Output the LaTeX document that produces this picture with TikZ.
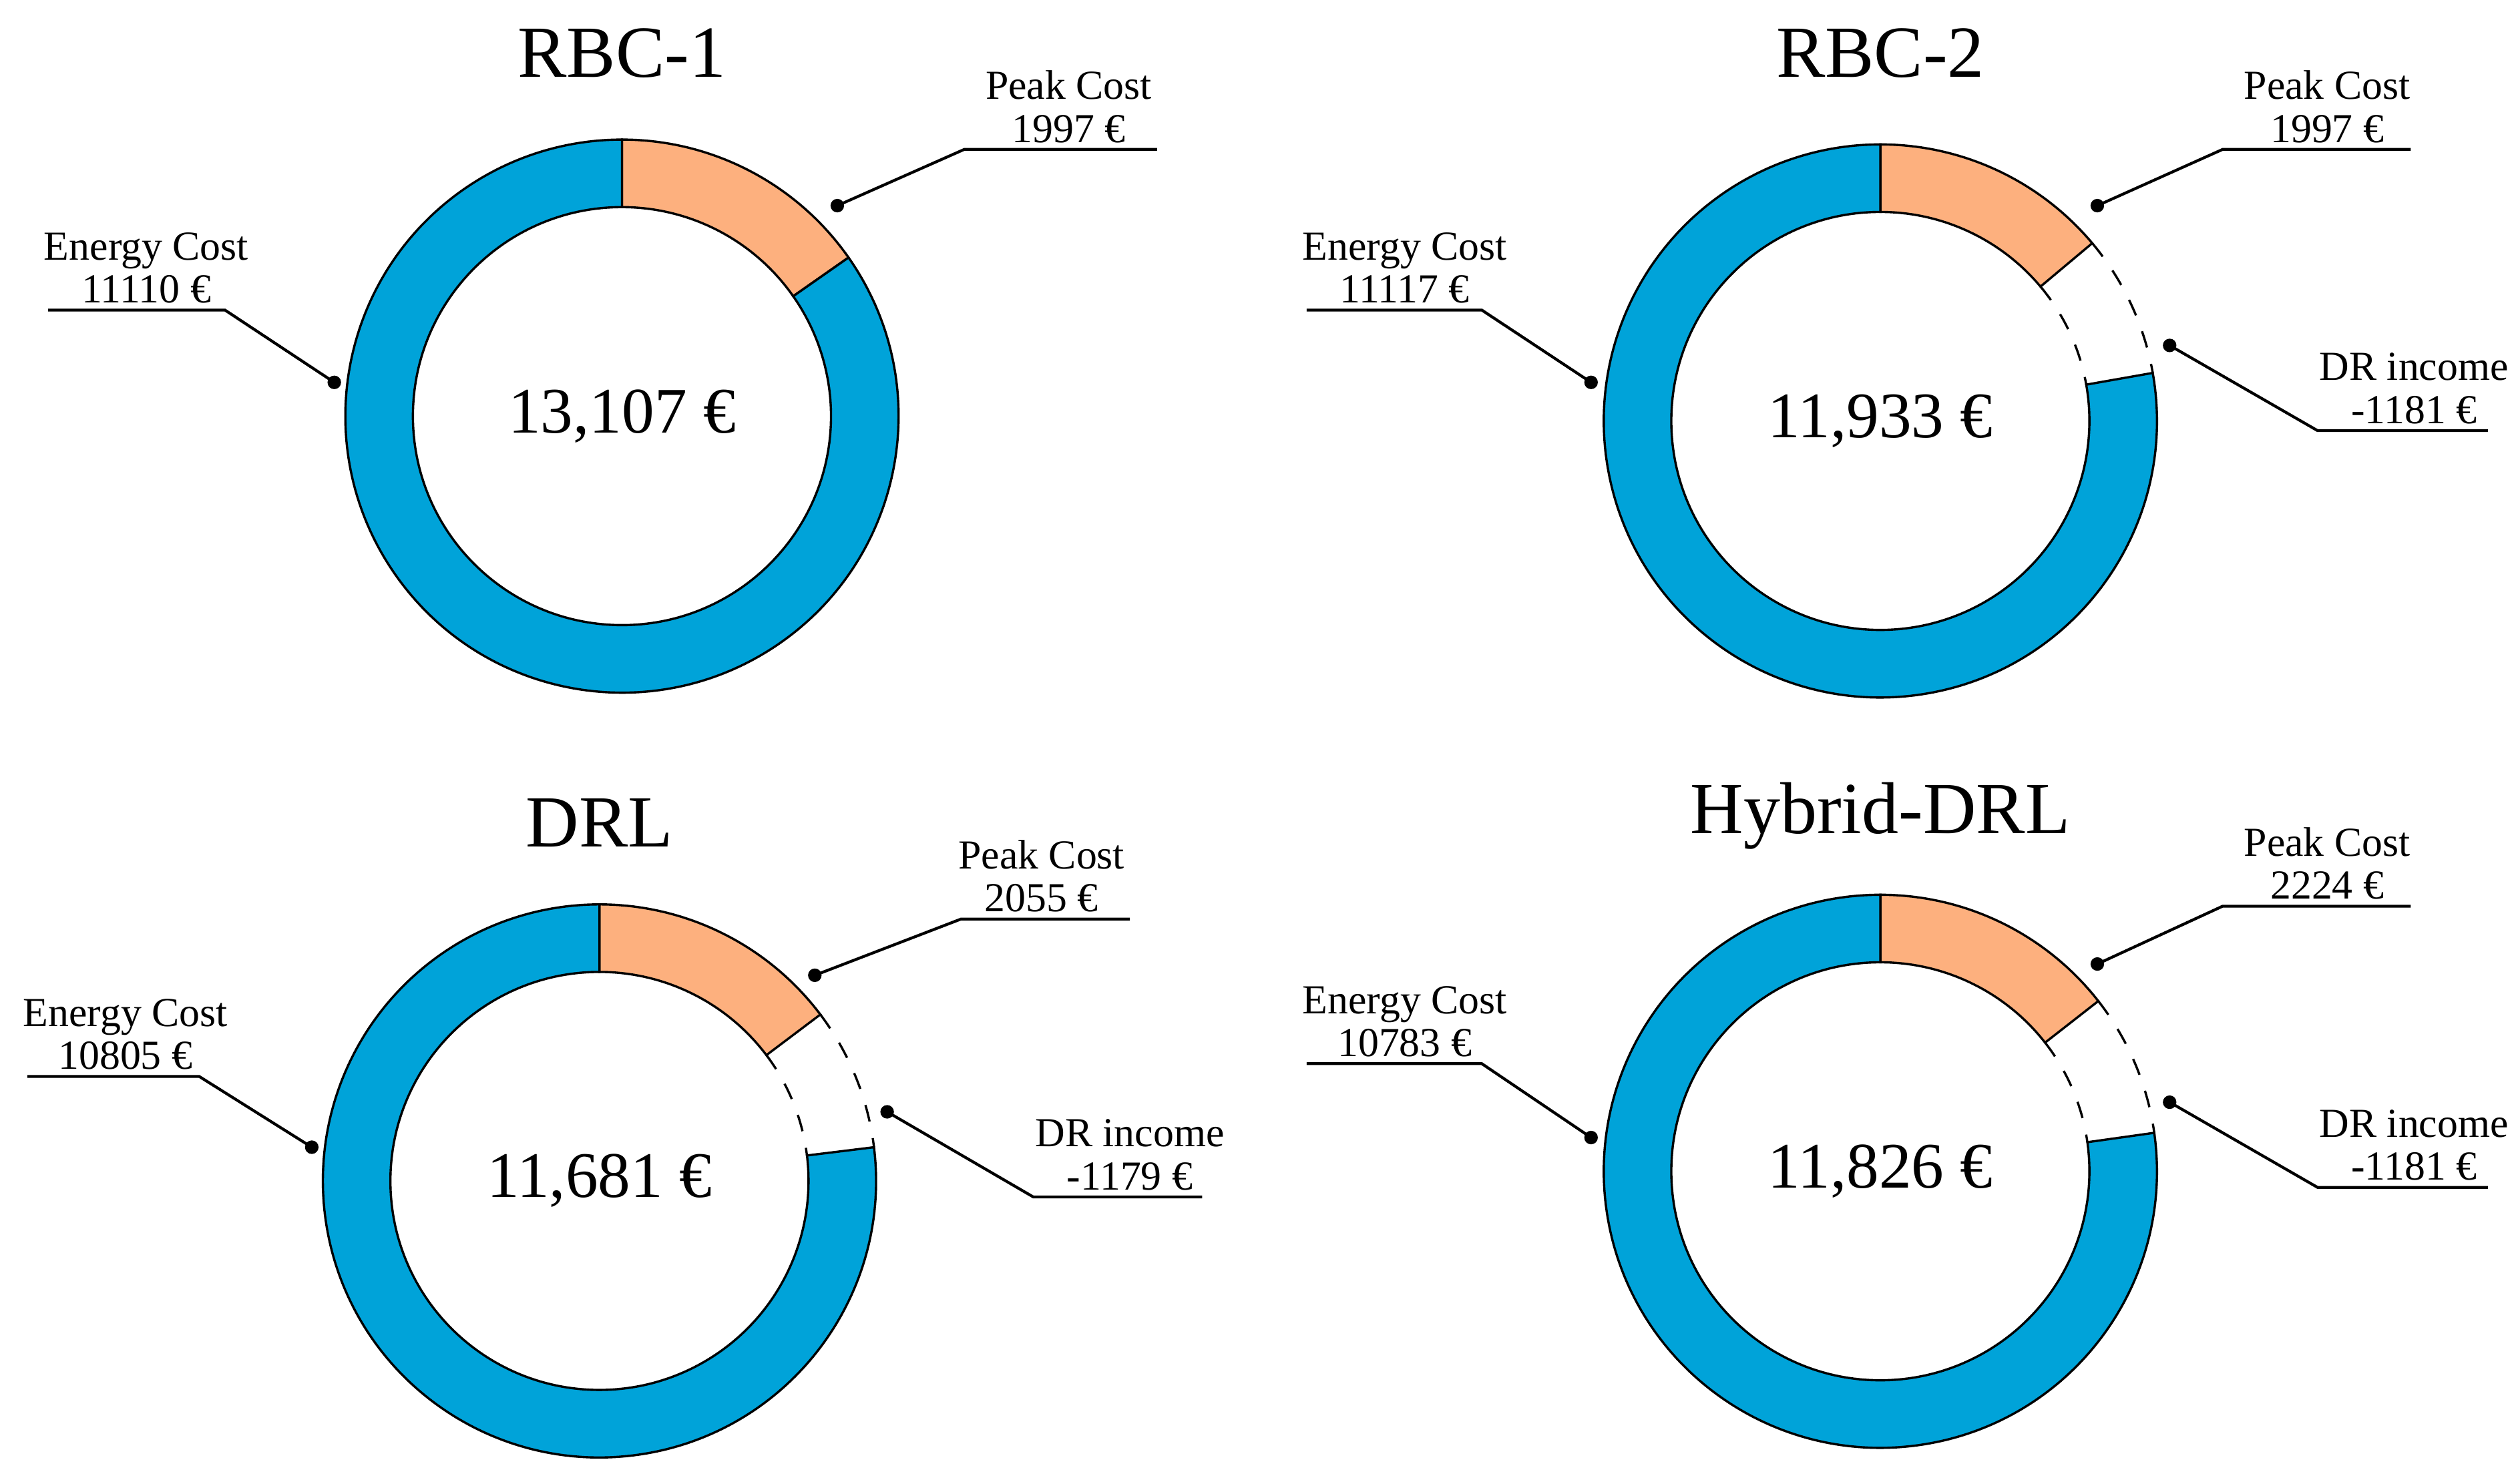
\documentclass[tikz,border=0pt]{standalone}
\usepackage{fontspec}
\setmainfont{Liberation Serif}
\usepackage{xcolor}
\usetikzlibrary{calc}
\definecolor{energyblue}{HTML}{00A3D9}
\definecolor{peakorange}{HTML}{FDB07E}

% one ring segment: center, start angle, end angle, style
\newcommand{\ringseg}[4]{%
  \draw[#4] ($(#1)+(#2:1.72cm)$) arc[start angle=#2,end angle=#3,radius=1.72cm]
    -- ($(#1)+(#3:1.30cm)$) arc[start angle=#3,end angle=#2,radius=1.30cm] -- cycle;}
% dashed gap of a ring
\newcommand{\ringgap}[3]{%
  \draw[gap] ($(#1)+(#2:1.72cm)$) arc[start angle=#2,end angle=#3,radius=1.72cm];
  \draw[gap] ($(#1)+(#2:1.30cm)$) arc[start angle=#2,end angle=#3,radius=1.30cm];}

\begin{document}
\begin{tikzpicture}[x=0.01cm,y=0.01cm,
    seg/.style={draw=black,line width=0.4pt},
    gap/.style={draw=black,dashed,line width=0.4pt},
    leader/.style={draw=black,line width=0.5pt},
    title/.style={font=\fontsize{13}{14}\selectfont},
    total/.style={font=\fontsize{11.5}{13}\selectfont},
    lbl/.style={font=\fontsize{7.3}{7.6}\selectfont,align=center,inner sep=1pt,anchor=south}]

        \useasboundingbox (0,0) rectangle (1568,922);

        \coordinate (c1) at (387,663);
        \coordinate (c2) at (1170,660);
        \coordinate (c3) at (373,187);
        \coordinate (c4) at (1170,193);

        % RBC-1
        \ringseg{c1}{90}{35}{seg,fill=peakorange}
        \ringseg{c1}{35}{-270}{seg,fill=energyblue}
        \node[title] (t1) at (387,889) {RBC-1};
        \node[total] (v1) at (c1) {13,107 €};

        % RBC-2
        \ringseg{c2}{90}{40}{seg,fill=peakorange}
        \ringgap{c2}{40}{10}
        \ringseg{c2}{10}{-270}{seg,fill=energyblue}
        \node[title] (t2) at (1170,889) {RBC-2};
        \node[total] (v2) at (c2) {11,933 €};

        % DRL
        \ringseg{c3}{90}{37}{seg,fill=peakorange}
        \ringgap{c3}{37}{7}
        \ringseg{c3}{7}{-270}{seg,fill=energyblue}
        \node[title] (t3) at (373,410) {DRL};
        \node[total] (v3) at (c3) {11,681 €};

        % Hybrid-DRL
        \ringseg{c4}{90}{38}{seg,fill=peakorange}
        \ringgap{c4}{38}{8}
        \ringseg{c4}{8}{-270}{seg,fill=energyblue}
        \node[title] (t4) at (1170,414) {Hybrid-DRL};
        \node[total] (v4) at (c4) {11,826 €};

        % labels: text, underline ends, dot
        \foreach \n/\x/\y/\a/\b/\dx/\dy/\txt in {
            e1/91/729/30/140/208/684/{Energy Cost\\11110 €},
            p1/665/829/720/600/521/794/{Peak Cost\\1997 €},
            e2/874/729/813/922/990/684/{Energy Cost\\11117 €},
            p2/1448/829/1500/1383/1305/794/{Peak Cost\\1997 €},
            d2/1502/654/1548/1442/1350/707/{DR income\\-1181 €},
            e3/78/252/17/124/194/208/{Energy Cost\\10805 €},
            p3/648/350/703/598/507/315/{Peak Cost\\2055 €},
            d3/703/177/748/643/552/230/{DR income\\-1179 €},
            e4/874/260/813/922/990/214/{Energy Cost\\10783 €},
            p4/1448/358/1500/1383/1305/322/{Peak Cost\\2224 €},
            d4/1502/183/1548/1442/1350/236/{DR income\\-1181 €}}{
            \node[lbl] (\n) at (\x,\y) {\txt};
            \coordinate (\n-a) at (\a,\y);
            \coordinate (\n-b) at (\b,\y);
            \coordinate (\n-d) at (\dx,\dy);
            \draw[leader] (\n-a) -- (\n-b) -- (\n-d);
            \fill (\n-d) circle (1.2pt);
        }

\end{tikzpicture}
\end{document}
